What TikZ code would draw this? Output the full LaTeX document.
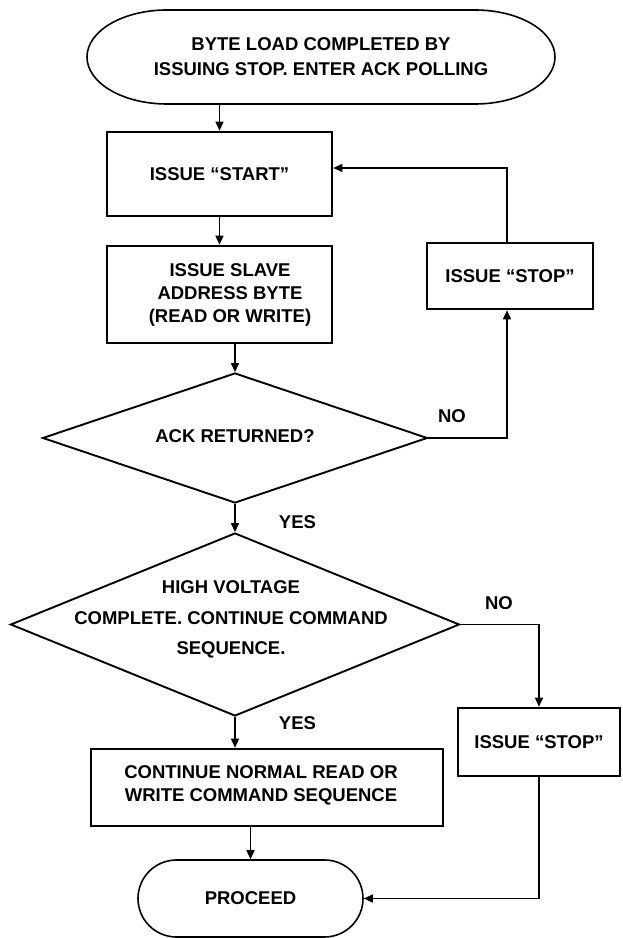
\documentclass[tikz,border=0pt]{standalone}
\usepackage{fontspec}
\setmainfont{Liberation Sans}
\usetikzlibrary{shapes.geometric,shapes.misc,arrows.meta}
\begin{document}
\begin{tikzpicture}[x=1pt,y=1pt,
  every node/.style={font=\bfseries\fontsize{18.5}{23}\selectfont, align=center},
  box/.style={draw, line width=2.6pt, inner sep=0pt},
  dia/.style={draw, diamond, line width=1.9pt, inner sep=0pt},
  term/.style={draw, rounded rectangle, line width=1.6pt, inner sep=0pt},
  arr/.style={line width=1.5pt, -{Triangle[length=9pt,width=8pt]}}]
\useasboundingbox (0,0) rectangle (622,938);

% top terminator
\node[minimum width=468pt, minimum height=94pt, inner sep=0pt,
      font=\bfseries\fontsize{18.5}{25}\selectfont] (top) at (321,881)
  {BYTE LOAD COMPLETED BY\\ISSUING STOP. ENTER ACK POLLING};
\draw[line width=1.6pt] (167,928) -- (475,928)
  arc[start angle=90, end angle=-90, x radius=80pt, y radius=47pt]
  -- (167,834)
  arc[start angle=270, end angle=90, x radius=80pt, y radius=47pt] -- cycle;

\node[box, minimum width=225pt, minimum height=84pt] (start) at (219.5,764) {ISSUE “START”};
\node[box, minimum width=225pt, minimum height=97pt] (slave) at (219.5,643.5) {};
\node (slavetxt) at (230,643) {ISSUE SLAVE\\ADDRESS BYTE\\(READ OR WRITE)};
\node[box, minimum width=166pt, minimum height=66pt] (stop1) at (510,662) {ISSUE “STOP”};

\node[dia, minimum width=385pt, minimum height=130pt] (d1) at (235,500) {};
\node (d1txt) at (235,502) {ACK RETURNED?};

\node[dia, minimum width=449pt, minimum height=183pt] (d2) at (235,313.5) {};
\node[font=\bfseries\fontsize{18.5}{30.5}\selectfont] (d2txt) at (231,318.5)
  {HIGH VOLTAGE\\COMPLETE. CONTINUE COMMAND\\SEQUENCE.};

\node[box, minimum width=162pt, minimum height=68pt] (stop2) at (539,196) {ISSUE “STOP”};
\node[box, minimum width=352pt, minimum height=77pt] (cont) at (267,150.5) {};
\node (conttxt) at (261,152.5) {CONTINUE NORMAL READ OR\\WRITE COMMAND SEQUENCE};
\node[term, minimum width=225pt, minimum height=77pt] (proceed) at (250.5,39.5) {PROCEED};

% labels
\node (yes1) at (297.5,416) {YES};
\node (no1) at (452,522) {NO};
\node (no2) at (499,335) {NO};
\node (yes2) at (297.5,215) {YES};

% connectors
\draw[arr] (top.south -| start.north) -- (start.north);
\draw[arr] (start.south) -- (slave.north);
\draw[arr] (slave.south -| d1.north) -- (d1.north);
\draw[arr] (d1.east) -| ([xshift=-3pt]stop1.south);
\draw[arr] ([xshift=-3pt]stop1.north) |- ([yshift=6pt]start.east);
\draw[arr] (d1.south) -- (d2.north);
\draw[arr] (d2.east) -| (stop2.north);
\draw[arr] (d2.south) -- (d2.south |- cont.north);
\draw[arr] (cont.south -| proceed.north) -- (proceed.north);
\draw[arr] (stop2.south) |- (proceed.east);
\end{tikzpicture}
\end{document}
